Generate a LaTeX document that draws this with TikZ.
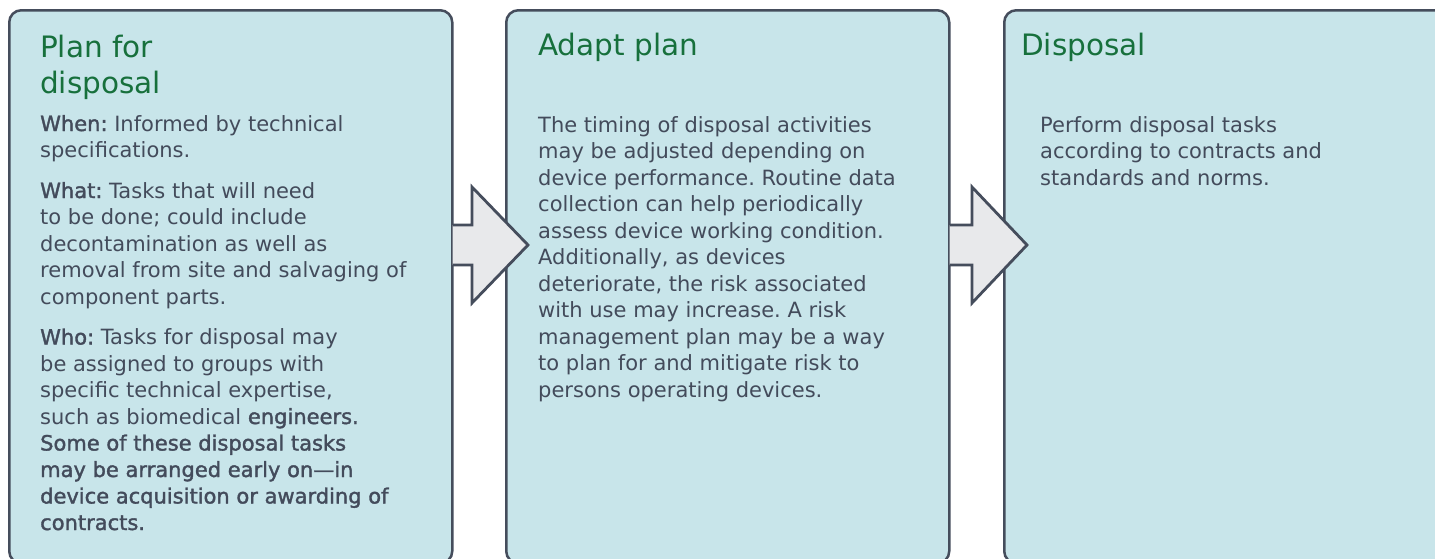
\documentclass[tikz,border=0pt]{standalone}
\usepackage{fontspec}
\setmainfont{DejaVu Sans}[BoldFont={DejaVu Sans},BoldFeatures={FakeBold=1.6}]
\usetikzlibrary{calc}
\definecolor{boxfill}{HTML}{C8E5EA}
\definecolor{edge}{HTML}{454D5C}
\definecolor{ttl}{HTML}{17703C}
\definecolor{txt}{HTML}{434B5B}
\definecolor{arrowfill}{HTML}{E8E9EB}
\frenchspacing
\begin{document}
\begin{tikzpicture}[x=1pt,y=-1pt,
  box/.style={draw=edge, fill=boxfill, line width=2.5pt, rounded corners=12pt, anchor=north west, inner sep=0pt, minimum height=553pt},
  ttlstyle/.style={anchor=base west, inner sep=0pt, text=ttl, font=\fontsize{29.5}{36}\selectfont, align=left},
  body/.style={anchor=base west, inner sep=0pt, text=txt, font=\fontsize{21}{26.5}\selectfont\frenchspacing, align=left},
  flow/.style={draw=edge, fill=arrowfill, line width=2.8pt, line join=miter}]
\useasboundingbox (0,0) rectangle (1435,558);
% boxes
\node[box, minimum width=443pt] (b1) at (8,9) {};
\node[box, minimum width=443pt] (b2) at (505,9) {};
\node[box, minimum width=445pt] (b3) at (1003,9) {};
% arrows
\coordinate (a1s) at (452.5,245);
\coordinate (a1t) at (528,245);
\coordinate (a2s) at (949.5,245);
\coordinate (a2t) at (1027,245);
\draw[flow] ($(a1s)+(0,-20)$) -- ($(a1t)+(-56,-20)$) -- ($(a1t)+(-56,-58)$) -- (a1t)
  -- ($(a1t)+(-56,58)$) -- ($(a1t)+(-56,20)$) -- ($(a1s)+(0,20)$);
\draw[flow] ($(a2s)+(0,-20)$) -- ($(a2t)+(-55,-20)$) -- ($(a2t)+(-55,-58)$) -- (a2t)
  -- ($(a2t)+(-55,58)$) -- ($(a2t)+(-55,20)$) -- ($(a2s)+(0,20)$);
% titles (anchored at the baseline of their last line)
\node[ttlstyle] (t1) at (40,93) {Plan for\\disposal};
\node[ttlstyle] (t2) at (538,55) {Adapt plan};
\node[ttlstyle] (t3) at (1021,55) {Disposal};
% bodies (anchored at the baseline of their last line)
\node[body] (x1) at (40,530) {\textbf{When:} Informed by technical\\specifications.\\[14pt]
\textbf{What:} Tasks that will need\\to be done; could include\\decontamination as well as\\removal from site and salvaging of\\component parts.\\[14pt]
\textbf{Who:} Tasks for disposal may\\be assigned to groups with\\specific technical expertise,\\such as biomedical \textbf{engineers.}\\
\textbf{Some of these disposal tasks}\\\textbf{may be arranged early on---in}\\\textbf{device acquisition or awarding of}\\\textbf{contracts.}};
\node[body] (x2) at (538,397) {The timing of disposal activities\\may be adjusted depending on\\device performance. Routine data\\collection can help periodically\\assess device working condition.\\Additionally, as devices\\deteriorate, the risk associated\\with use may increase. A risk\\management plan may be a way\\to plan for and mitigate risk to\\persons operating devices.};
\node[body] (x3) at (1040,185) {Perform disposal tasks\\according to contracts and\\standards and norms.};
\end{tikzpicture}
\end{document}
